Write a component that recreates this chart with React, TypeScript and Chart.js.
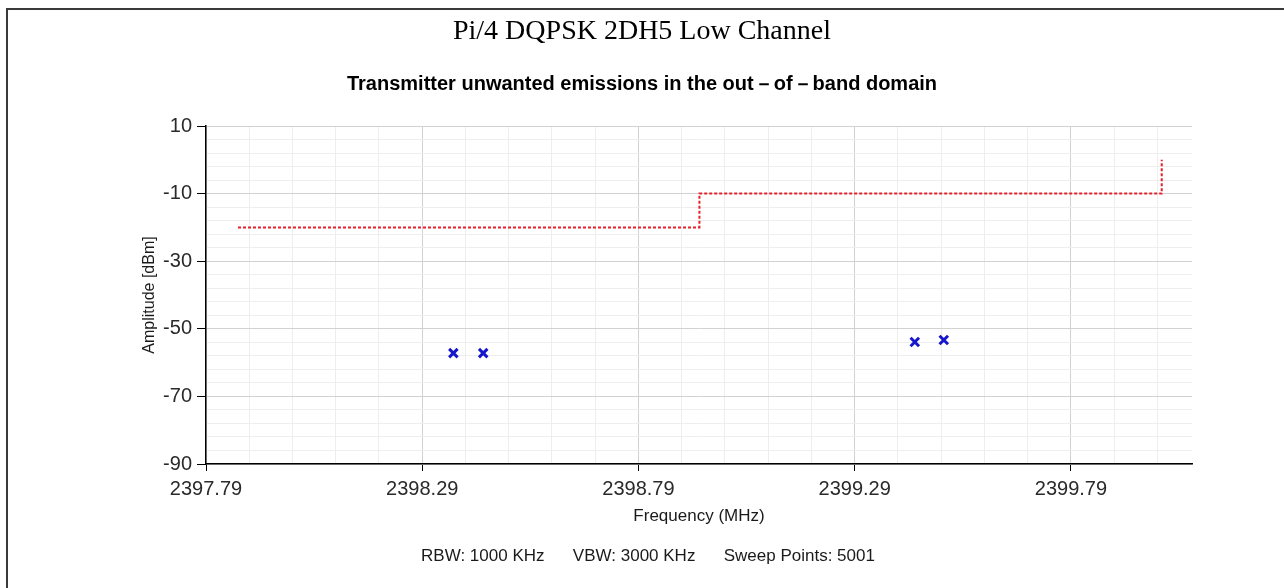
import React, { useEffect, useRef } from "react";
import { Chart, registerables } from "chart.js";
Chart.register(...registerables);

const titleText = "Pi/4 DQPSK 2DH5 Low Channel";
const subtitleText = "Transmitter unwanted emissions in the out－of－band domain";
const xAxisTitle = "Frequency (MHz)";
const yAxisTitle = "Amplitude [dBm]";
const footerText = "RBW: 1000 KHz      VBW: 3000 KHz      Sweep Points: 5001";

const xMajorTicks = [2397.79, 2398.29, 2398.79, 2399.29, 2399.79];
const xTickLabels = ["2397.79", "2398.29", "2398.79", "2399.29", "2399.79"];
const xMin = 2397.79;
const xMax = 2400.07;
const xMinorStep = 0.1;

const yMajorTicks = [-90, -70, -50, -30, -10, 10];
const yTickLabels = ["-90", "-70", "-50", "-30", "-10", "10"];
const yMin = -90;
const yMax = 10;
const yMinorStep = 4;

const limitFreq = [2397.864, 2398.931, 2398.931, 2400.0, 2400.0];
const limitLevel = [-20, -20, -10, -10, 0];

const measFreq = [2398.362, 2398.431, 2399.429, 2399.496];
const measLevel = [-57.2, -57.2, -53.9, -53.3];

const SANS = '"Liberation Sans", Arial, sans-serif';
const SERIF = '"Liberation Serif", "Times New Roman", serif';

function buildTicks(min: number, max: number, step: number) {
  const out: number[] = [];
  for (let k = 0; min + k * step <= max + 1e-9; k++) {
    out.push(Math.round((min + k * step) * 1000) / 1000);
  }
  return out;
}

function majorIndex(list: number[], v: number) {
  return list.findIndex((m) => Math.abs(m - v) < 1e-6);
}

const footerPlugin = {
  id: "footerText",
  afterDraw(chart: any) {
    const ctx = chart.ctx;
    ctx.save();
    ctx.font = `17px ${SANS}`;
    ctx.fillStyle = "#1a1a1a";
    ctx.textAlign = "center";
    ctx.textBaseline = "middle";
    ctx.fillText(footerText, 648, 556);
    ctx.restore();
  },
};

export default function App() {
  const ref = useRef<HTMLCanvasElement>(null);
  useEffect(() => {
    const xTicks = buildTicks(xMin, xMax, xMinorStep);
    const yTicks = buildTicks(yMin, yMax, yMinorStep);
    const chart = new Chart(ref.current!, {
      type: "scatter",
      data: {
        datasets: [
          {
            label: "Limit",
            data: limitFreq.map((f, i) => ({ x: f, y: limitLevel[i] })),
            showLine: true,
            borderColor: "#e8202a",
            borderWidth: 2,
            borderDash: [3, 2],
            pointRadius: 0,
            fill: false,
          },
          {
            label: "Measured",
            data: measFreq.map((f, i) => ({ x: f, y: measLevel[i] })),
            showLine: false,
            pointStyle: "crossRot",
            pointRadius: 6,
            borderColor: "#1616cc",
            backgroundColor: "#1616cc",
            pointBorderWidth: 3,
          },
        ],
      },
      options: {
        animation: false,
        responsive: false,
        devicePixelRatio: 1,
        layout: { padding: 0 },
        plugins: {
          legend: { display: false },
          tooltip: { enabled: false },
          title: {
            display: true,
            text: titleText,
            color: "#000",
            font: { family: SERIF, size: 28, weight: "normal" },
            padding: { top: 15.2, bottom: 0 },
          },
          subtitle: {
            display: true,
            text: subtitleText,
            color: "#000",
            font: { family: SANS, size: 20, weight: "bold" },
            padding: { top: 23.2, bottom: 30 },
          },
        },
        scales: {
          x: {
            type: "linear",
            min: xMin,
            max: xMax,
            afterBuildTicks: (scale: any) => {
              scale.ticks = xTicks.map((v) => ({ value: v }));
            },
            afterFit: (scale: any) => {
              scale.height = 124;
            },
            ticks: {
              autoSkip: false,
              maxRotation: 0,
              minRotation: 0,
              padding: 6,
              color: "#2a2a2a",
              font: { family: SANS, size: 20 },
              callback: (value: any) => {
                const i = majorIndex(xMajorTicks, Number(value));
                return i >= 0 ? xTickLabels[i] : "";
              },
            },
            grid: {
              color: (c: any) =>
                majorIndex(xMajorTicks, c.tick?.value) >= 0 ? "#d2d2d2" : "#eeeeee",
              tickColor: (c: any) =>
                majorIndex(xMajorTicks, c.tick?.value) >= 0 ? "#000" : "rgba(0,0,0,0)",
              tickLength: 7,
              lineWidth: 1,
            },
            border: { color: "#000", width: 1.5 },
            title: {
              display: true,
              text: xAxisTitle,
              color: "#1a1a1a",
              font: { family: SANS, size: 17 },
              padding: { top: 0, bottom: 61.8 },
            },
          },
          y: {
            type: "linear",
            min: yMin,
            max: yMax,
            afterBuildTicks: (scale: any) => {
              scale.ticks = yTicks.map((v) => ({ value: v }));
            },
            afterFit: (scale: any) => {
              scale.width = 206;
            },
            ticks: {
              autoSkip: false,
              padding: 5,
              color: "#2a2a2a",
              font: { family: SANS, size: 20 },
              callback: (value: any) => {
                const i = majorIndex(yMajorTicks, Number(value));
                return i >= 0 ? yTickLabels[i] : "";
              },
            },
            grid: {
              color: (c: any) =>
                majorIndex(yMajorTicks, c.tick?.value) >= 0 ? "#d2d2d2" : "#eeeeee",
              tickColor: (c: any) =>
                majorIndex(yMajorTicks, c.tick?.value) >= 0 ? "#000" : "rgba(0,0,0,0)",
              tickLength: 9,
              lineWidth: 1,
            },
            border: { color: "#000", width: 1.5 },
            title: {
              display: true,
              text: yAxisTitle,
              color: "#1a1a1a",
              font: { family: SANS, size: 16 },
              padding: { top: 140.4, bottom: 0 },
            },
          },
          yRightSpacer: {
            type: "linear",
            position: "right",
            display: true,
            min: 0,
            max: 1,
            afterFit: (scale: any) => {
              scale.width = 92;
            },
            grid: { display: false, drawTicks: false },
            ticks: { display: false },
            border: { display: false },
          },
        },
      },
      plugins: [footerPlugin],
    } as any);
    return () => chart.destroy();
  }, []);

  return (
    <>
      <div
        style={{
          position: "fixed",
          left: 6,
          top: 8,
          right: 0,
          bottom: 0,
          borderLeft: "2px solid #3a3a3a",
          borderTop: "2px solid #3a3a3a",
          background: "#fff",
        }}
      />
      <canvas
        ref={ref}
        width={1284}
        height={588}
        style={{ position: "fixed", left: 0, top: 0, width: 1284, height: 588 }}
      />
    </>
  );
}
